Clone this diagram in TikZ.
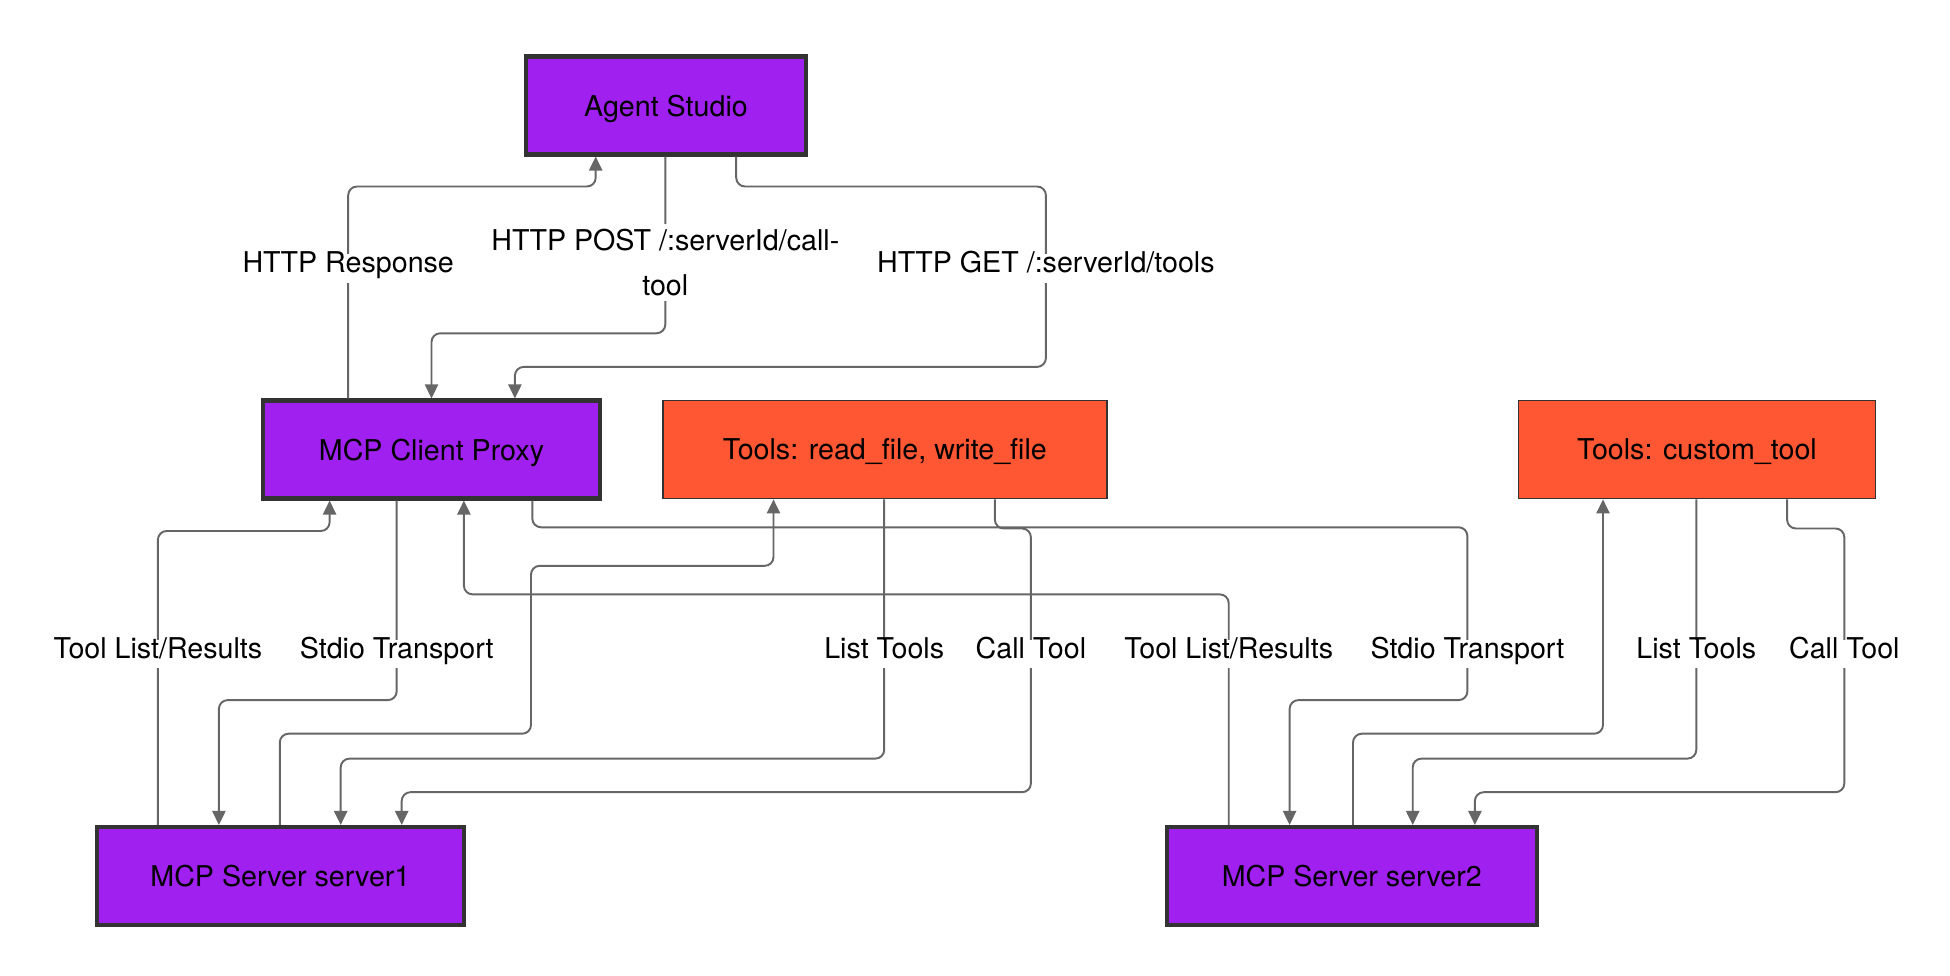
\documentclass[tikz,border=0pt]{standalone}
\usepackage{fontspec}
\setmainfont{TeX Gyre Heros}
\usetikzlibrary{positioning,arrows.meta}
\definecolor{agentpurple}{HTML}{A020F0}
\definecolor{toolorange}{HTML}{FF5733}
\definecolor{edgegray}{HTML}{666666}
\definecolor{boxborder}{HTML}{333333}

\begin{document}
\begin{tikzpicture}[x=0.02cm, y=-0.02cm,
  font=\fontsize{16.3}{25.5}\selectfont,
  comp/.style={draw=boxborder, line width=2.3pt, fill=agentpurple, minimum height=1.96cm, inner sep=0pt, text depth=0pt},
  toolbox/.style={draw=boxborder, line width=1pt, fill=toolorange, minimum height=1.96cm, inner sep=0pt, text depth=0pt},
  link/.style={draw=edgegray, line width=1.1pt, rounded corners=5pt, -{Triangle[length=8pt,width=7.5pt]}},
  lbl/.style={fill=white, inner sep=3pt, align=center},
  onelbl/.style={lbl, text height=0.75em, text depth=0.25em}]
\useasboundingbox (0,0) rectangle (1950,976);

\node[comp, minimum width=5.6cm] (studio) at (666,105.5) {Agent Studio};
\node[comp, minimum width=6.76cm] (proxy) at (431.5,449.5) {MCP Client Proxy};
\node[toolbox, minimum width=8.88cm, right=1.19cm of proxy] (fstools) {Tools: read\_file, write\_file};
\node[toolbox, minimum width=7.14cm, right=8.2cm of fstools] (customtools) {Tools: custom\_tool};
\node[comp, minimum width=7.34cm] (server1) at (280.4,876) {MCP Server server1};
\node[comp, minimum width=7.4cm, right=13.98cm of server1] (server2) {MCP Server server2};

% studio <-> proxy
\draw[link] (348.2,0 |- proxy.north) |- (595.7,186.5) -- (595.7,0 |- studio.south);
\draw[link] (665.3,0 |- studio.south) |- (431.5,333.3) -- (proxy.north);
\draw[link] (736.2,0 |- studio.south) |- (1045.9,186.5) |- (514.9,366.9) -- (514.9,0 |- proxy.north);

% proxy <-> server1, server1 <-> fstools
\draw[link] (157.9,0 |- server1.north) |- (329.6,531) -- (329.6,0 |- proxy.south);
\draw[link] (396.7,0 |- proxy.south) |- (218.9,700.1) -- (218.9,0 |- server1.north);
\draw[link] (279.8,0 |- server1.north) |- (531,733.7) |- (773.5,565.8) -- (773.5,0 |- fstools.south);
\draw[link] (884.2,0 |- fstools.south) |- (340.7,758.6) -- (340.7,0 |- server1.north);
\draw[link] (994.9,0 |- fstools.south) |- (1030.9,528.5) |- (401.7,792.2) -- (401.7,0 |- server1.north);

% proxy <-> server2, server2 <-> customtools
\draw[link] (1228.7,0 |- server2.north) |- (463.9,594.4) -- (463.9,0 |- proxy.south);
\draw[link] (532.3,0 |- proxy.south) |- (1467.4,527.3) |- (1289.6,700.1) -- (1289.6,0 |- server2.north);
\draw[link] (1353,0 |- server2.north) |- (1603,733.7) -- (1603,0 |- customtools.south);
\draw[link] (1696.3,0 |- customtools.south) |- (1412.7,758.6) -- (1412.7,0 |- server2.north);
\draw[link] (1787.1,0 |- customtools.south) |- (1844.3,528.5) |- (1474.9,792.2) -- (1474.9,0 |- server2.north);

% labels
\node[onelbl] (resp) at (348.2,268.5) {HTTP Response};
\node[lbl] (post) at (665.3,262.4) {HTTP POST /:serverId/call-\\tool};
\node[onelbl] (get) at (1045.9,268.5) {HTTP GET /:serverId/tools};
\node[onelbl] (results1) at (157.9,654) {Tool List/Results};
\node[onelbl] (stdio1) at (396.7,654) {Stdio Transport};
\node[onelbl] (list1) at (884.2,654) {List Tools};
\node[onelbl] (call1) at (1030.9,654) {Call Tool};
\node[onelbl] (results2) at (1228.7,654) {Tool List/Results};
\node[onelbl] (stdio2) at (1467.4,654) {Stdio Transport};
\node[onelbl] (list2) at (1696.3,654) {List Tools};
\node[onelbl] (call2) at (1844.3,654) {Call Tool};
\end{tikzpicture}
\end{document}
